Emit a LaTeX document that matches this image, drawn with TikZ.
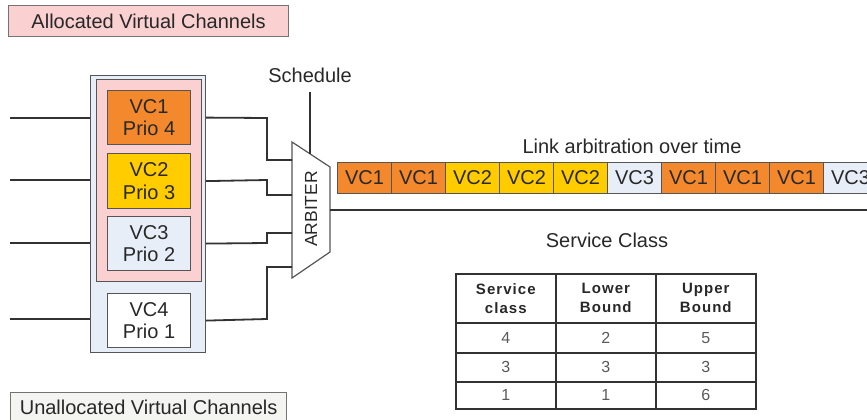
\documentclass[tikz,border=0pt]{standalone}
\usepackage{fontspec}
\setmainfont{Liberation Sans}
\definecolor{vcorange}{RGB}{243,137,44}
\definecolor{vcyellow}{RGB}{255,204,0}
\definecolor{vcblue}{RGB}{231,238,248}
\definecolor{allocpink}{RGB}{250,208,208}
\definecolor{unallocfill}{RGB}{244,244,240}
\definecolor{edgegray}{RGB}{85,85,85}
\definecolor{wiregray}{RGB}{50,50,50}
\definecolor{textgray}{RGB}{40,40,40}
\begin{document}
\begin{tikzpicture}[x=1pt,y=-1pt,
  box/.style={draw=edgegray, line width=1.2pt, inner sep=0pt, anchor=north west, text=textgray},
  wire/.style={draw=wiregray, line width=1.8pt},
  big/.style={font=\fontsize{20}{22.5}\selectfont},
  vcbox/.style={box, big, minimum width=83pt, minimum height=54pt, align=center},
  slot/.style={box, big, minimum width=54pt, minimum height=31pt},
  lbl/.style={big, text=textgray, inner sep=0pt},
  cell/.style={draw=wiregray, line width=1.6pt, inner sep=0pt, anchor=north west, minimum width=100pt, text=textgray},
  head/.style={cell, align=center, font=\fontsize{15}{19}\selectfont\bfseries\addfontfeatures{LetterSpace=7}},
  num/.style={cell, font=\fontsize{16}{18}\selectfont, text=black!65},
]
\useasboundingbox (0,0) rectangle (867,420);

% legend boxes
\node[box, big, fill=allocpink, draw=black!55, minimum width=280pt, minimum height=31pt] (alloc) at (8,5) {Allocated Virtual Channels};
\node[box, big, fill=unallocfill, draw=black!55, minimum width=276pt, minimum height=29pt] (unalloc) at (10,392) {Unallocated Virtual Channels};

% virtual channel stack
\node[box, fill=vcblue, minimum width=115pt, minimum height=277pt] (outer) at (90,75) {};
\node[box, fill=allocpink, minimum width=105pt, minimum height=202pt] (inner) at (96,79) {};
\node[vcbox, fill=vcorange] (vc1) at (107,90) {VC1\\Prio 4};
\node[vcbox, fill=vcyellow, minimum height=55pt] (vc2) at (107,153) {VC2\\Prio 3};
\node[vcbox, fill=vcblue] (vc3) at (107,216) {VC3\\Prio 2};
\node[vcbox, fill=white] (vc4) at (107,293) {VC4\\Prio 1};

% arbiter
\coordinate (a-nw) at (292,142);
\coordinate (a-sw) at (292,278);
\coordinate (a-ne) at (330,167);
\coordinate (a-se) at (330,252);
\draw[draw=edgegray, line width=1.2pt, fill=white] (a-nw) -- (a-ne) -- (a-se) -- (a-sw) -- cycle;
\node[lbl, rotate=90, font=\fontsize{17.5}{20}\selectfont] (arb) at (311,209) {ARBITER};
\coordinate (in1) at (292,160);
\coordinate (in2) at (292,195);
\coordinate (in3) at (292,233);
\coordinate (in4) at (292,267);
\coordinate (out) at (330,210);
\coordinate (lineend) at (867,210);

% schedule input
\node[lbl] (sched) at (310,75) {Schedule};
\coordinate (schedtop) at (310,92);
\coordinate (schedbot) at (310,154);
\draw[wire] (schedtop) -- (schedbot);

% input wires
\foreach \y in {118,180,243,319}
  \draw[wire] (10,\y) -- (outer.west |- 0,\y);

% wires from channels to arbiter
\draw[wire] (outer.east |- vc1) -- (267,118) |- (in1);
\draw[wire] (outer.east |- vc2) -- (267,180) |- (in2);
\draw[wire] (outer.east |- vc3) -- (267,243) |- (in3);
\draw[wire] (outer.east |- vc4) -- (267,319) |- (in4);

% output link
\draw[wire] (out) -- (lineend);
\node[lbl] (linklbl) at (632,146) {Link arbitration over time};

% time slots on the link (the last one runs past the right edge)
\begin{scope}
\clip (0,0) rectangle (867,420);
\foreach \i/\t/\c in {1/VC1/vcorange,2/VC1/vcorange,3/VC2/vcyellow,4/VC2/vcyellow,5/VC2/vcyellow,6/VC3/vcblue,7/VC1/vcorange,8/VC1/vcorange,9/VC1/vcorange,10/VC3/vcblue}
  \node[slot, fill=\c] (s\i) at ({337+54*(\i-1)},162) {\t};
\end{scope}

% service class table
\node[lbl] (sctitle) at (607,240) {Service Class};
\foreach \c/\t in {0/{Service\\class},1/{Lower\\Bound},2/{Upper\\Bound}}
  \node[head, minimum height=49pt] (h\c) at ({455+100*\c},273) {\t};
\foreach \r/\a/\b/\d/\y/\h in {1/4/2/5/322/30,2/3/3/3/352/29,3/1/1/6/381/27}{
  \node[num, minimum height=\h pt] (r\r c0) at (455,\y) {\a};
  \node[num, minimum height=\h pt] (r\r c1) at (555,\y) {\b};
  \node[num, minimum height=\h pt] (r\r c2) at (655,\y) {\d};
}
\end{tikzpicture}
\end{document}
